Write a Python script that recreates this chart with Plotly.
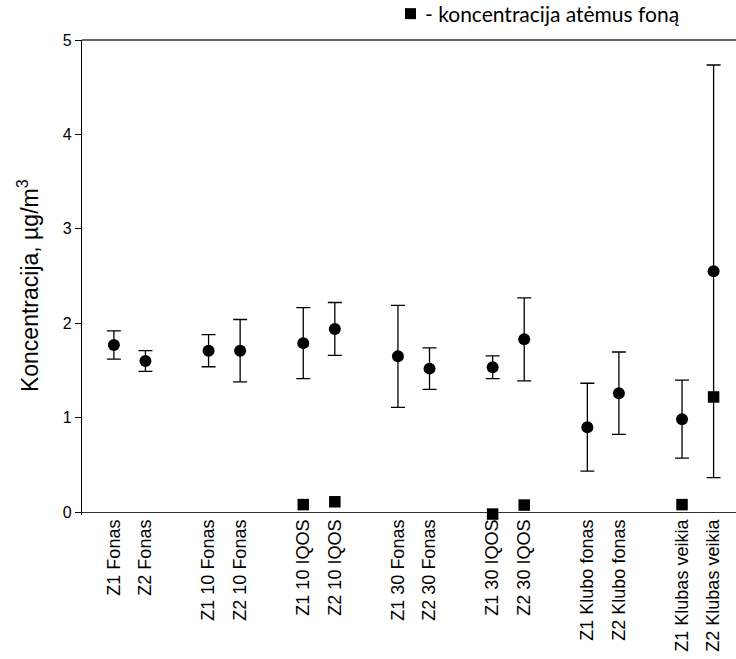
import plotly.graph_objects as go

# Sample labels and their x slots (pairs with a one-slot gap between groups)
labels = ["Z1 Fonas", "Z2 Fonas", "Z1 10 Fonas", "Z2 10 Fonas",
          "Z1 10 IQOS", "Z2 10 IQOS", "Z1 30 Fonas", "Z2 30 Fonas",
          "Z1 30 IQOS", "Z2 30 IQOS", "Z1 Klubo fonas", "Z2 Klubo fonas",
          "Z1 Klubas veikia", "Z2 Klubas veikia"]
slots = [0, 1, 3, 4, 6, 7, 9, 10, 12, 13, 15, 16, 18, 19]

# Mean concentration and standard deviation, µg/m3
mean_conc = [1.77, 1.60, 1.71, 1.71, 1.79, 1.94, 1.65, 1.52,
             1.535, 1.83, 0.90, 1.26, 0.985, 2.55]
sd_conc = [0.15, 0.11, 0.17, 0.33, 0.376, 0.28, 0.54, 0.22,
           0.12, 0.44, 0.465, 0.436, 0.413, 2.185]

# Concentration after background subtraction
net_slots = [6, 7, 12, 13, 18, 19]
net_conc = [0.08, 0.11, -0.02, 0.075, 0.08, 1.22]

fig = go.Figure()
fig.add_trace(go.Scatter(
    x=slots, y=mean_conc, mode="markers",
    marker=dict(symbol="circle", size=12, color="black"),
    error_y=dict(type="data", array=sd_conc, visible=True,
                 color="black", thickness=1.3, width=7),
    showlegend=False, cliponaxis=False))
fig.add_trace(go.Scatter(
    x=net_slots, y=net_conc, mode="markers",
    marker=dict(symbol="square", size=11.5, color="black"),
    showlegend=False, cliponaxis=False))

# Key for the square markers, placed above the plot frame
fig.add_shape(type="rect", xref="paper", yref="paper",
              xsizemode="pixel", ysizemode="pixel",
              xanchor=0.5023, yanchor=1.0555,
              x0=-5.5, x1=5.5, y0=-5.5, y1=5.5,
              fillcolor="black", line=dict(width=0))
fig.add_annotation(
    x=0.522, xref="paper", xanchor="left",
    y=1.0555, yref="paper", yanchor="middle",
    text="- koncentracija atėmus foną", showarrow=False,
    font=dict(family="Lato", size=21, color="black"))

# Vertical axis title
fig.add_annotation(
    x=0, xref="paper", xanchor="center", xshift=-54,
    y=0.482, yref="paper", yanchor="middle",
    text="Koncentracija, µg/m<sup>3</sup>", textangle=-90,
    showarrow=False, font=dict(family="Liberation Sans", size=23,
                               color="black"))

# Top frame line
fig.add_shape(type="line", xref="paper", yref="paper",
              x0=0, x1=1, y0=1, y1=1,
              line=dict(color="#333333", width=1.3))

fig.update_layout(
    width=736, height=659,
    margin=dict(l=82, r=0, t=40, b=144),
    paper_bgcolor="white", plot_bgcolor="white",
    font=dict(family="Liberation Sans", color="black"),
    xaxis=dict(
        range=[-1.01, 19.71], tickmode="array", tickvals=slots,
        ticktext=labels, tickangle=-90, ticks="",
        tickfont=dict(size=18), showgrid=False, zeroline=False,
        showline=False),
    yaxis=dict(
        range=[-0.03, 5], tickvals=[0, 1, 2, 3, 4, 5], ticks="outside",
        ticklen=6, tickwidth=1.2, tickcolor="black",
        tickfont=dict(size=16), showgrid=False,
        zeroline=True, zerolinecolor="#333333", zerolinewidth=1.3,
        showline=True, linecolor="black", linewidth=1.3),
)

fig.write_html("out.html")
